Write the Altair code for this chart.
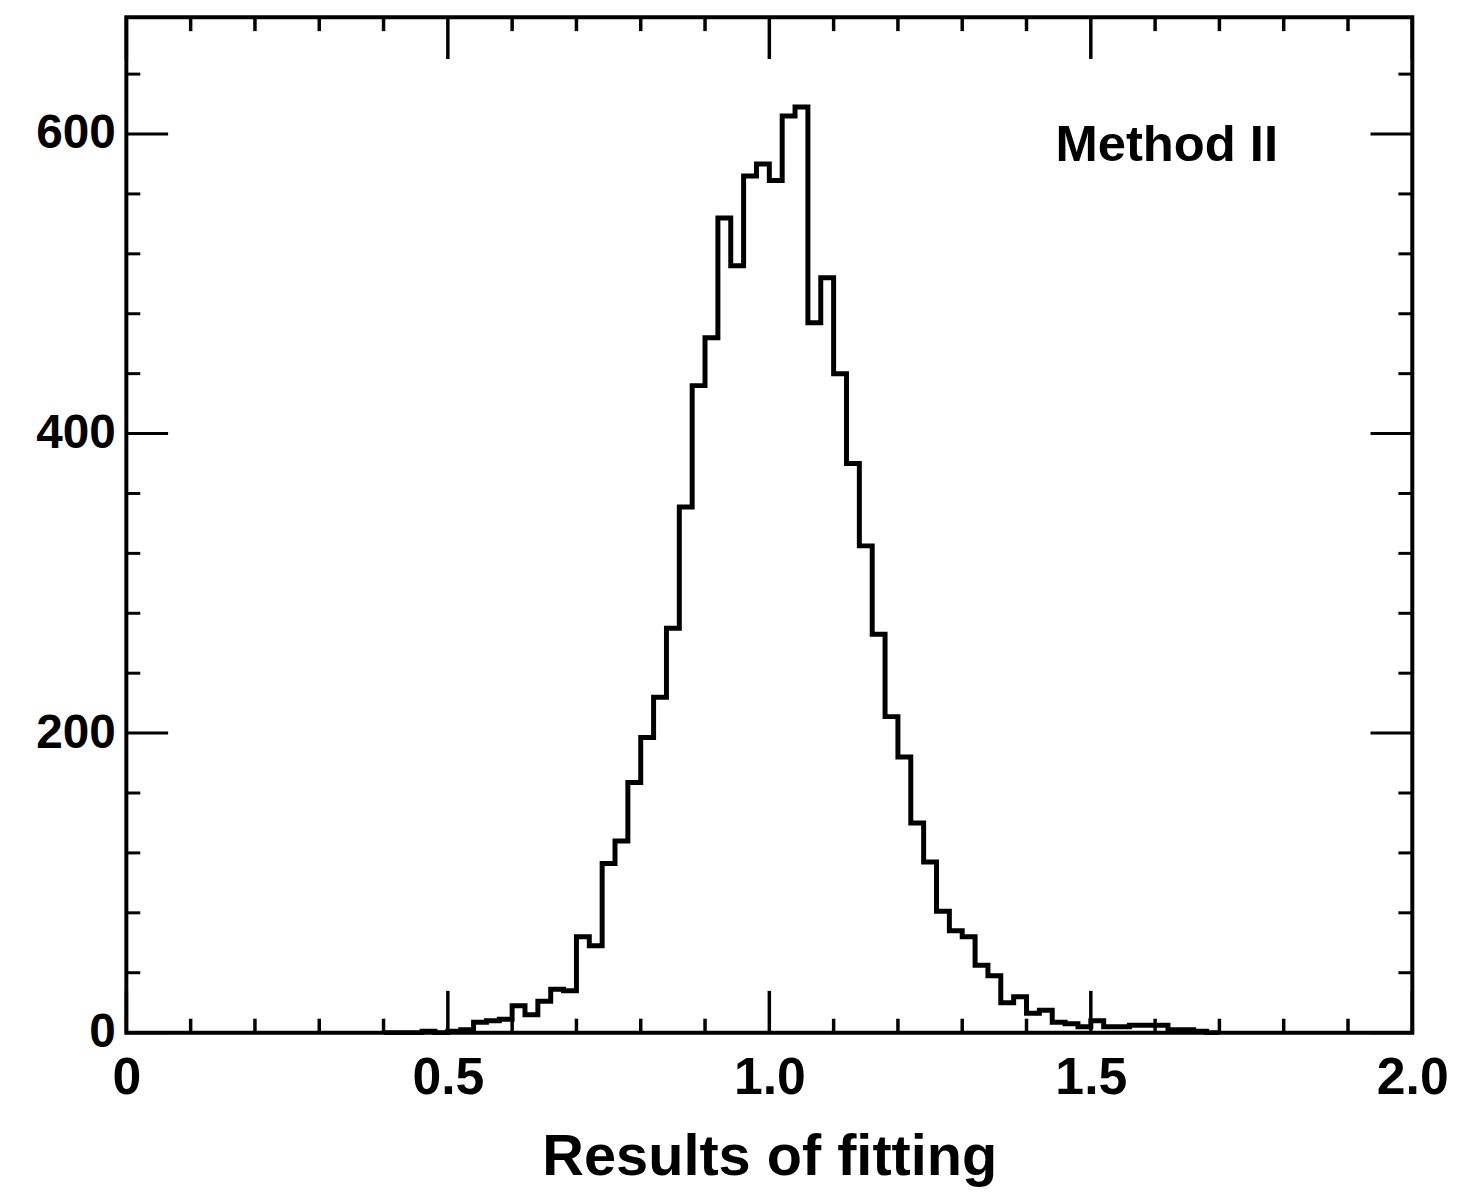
import altair as alt
import numpy as np
import pandas as pd

# ---- data ----
bin_width = 0.02
bin_lefts = np.round(np.arange(0.40, 1.70 - 1e-9, bin_width), 2)
counts = [0, 0, 0, 1, 0, 1, 2, 7, 8, 9,          # 0.40 - 0.58
          18, 12, 21, 29, 28, 64, 58, 113, 128, 167,  # 0.60 - 0.78
          197, 224, 270, 351, 432, 464, 544, 512, 572, 580,  # 0.80 - 0.98
          569, 612, 618, 474, 504, 440, 380, 325, 266, 211,  # 1.00 - 1.18
          184, 140, 114, 81, 68, 64, 45, 38, 20, 24,  # 1.20 - 1.38
          13, 15, 7, 6, 4, 8, 4, 4, 5, 5,            # 1.40 - 1.58
          5, 2, 2, 1, 0]                             # 1.60 - 1.68

x_major = [0.0, 0.5, 1.0, 1.5, 2.0]
x_minor = [0.1, 0.2, 0.3, 0.4, 0.6, 0.7, 0.8, 0.9, 1.1, 1.2, 1.3, 1.4, 1.6, 1.7, 1.8, 1.9]
y_major = [0, 200, 400, 600]
y_minor = [40, 80, 120, 160, 240, 280, 320, 360, 440, 480, 520, 560, 640]

annotation_text = ["Method II"]
annotation_x = [1.445]
annotation_y = [582]

x_title = "Results of fitting"

# ---- layout ----
W, H = 1293, 1021
X_DOMAIN = [0, 2]
Y_DOMAIN = [0, 678]
FONT = "Liberation Sans"
MAJ, MIN = 42, 14

xs = alt.Scale(domain=X_DOMAIN, nice=False, zero=False)
ys = alt.Scale(domain=Y_DOMAIN, nice=False)

edges = list(bin_lefts) + [round(bin_lefts[-1] + bin_width, 2)]
hist_df = pd.DataFrame({"x": edges, "count": list(counts) + [0]})

x_axis = alt.Axis(values=x_major, labelExpr="datum.value == 0 ? '0' : format(datum.value, '.1f')",
                  ticks=False, domain=False, grid=False, labelFlush=False, labelOverlap=False,
                  labelFont=FONT, labelFontSize=52, labelFontWeight="bold", labelColor="black",
                  labelPadding=20, title=x_title, titleFont=FONT, titleFontSize=58,
                  titleFontWeight="bold", titleColor="black", titlePadding=26)
y_axis = alt.Axis(values=y_major, format="d", ticks=False, domain=False, grid=False,
                  labelFlush=False, labelOverlap=False, labelFont=FONT, labelFontSize=48,
                  labelFontWeight="bold", labelColor="black", labelPadding=11, title=None)

hist = alt.Chart(hist_df).mark_line(interpolate="step-after", color="black", strokeWidth=5).encode(
    x=alt.X("x:Q", scale=xs, axis=x_axis),
    y=alt.Y("count:Q", scale=ys, axis=y_axis),
)

layers = [hist]

def xticks(vals, length):
    df = pd.DataFrame({"v": vals})
    bottom = alt.Chart(df).mark_rule(color="black", strokeWidth=3.5).encode(
        x=alt.X("v:Q", scale=xs), y=alt.value(H), y2=alt.value(H - length))
    top = alt.Chart(df).mark_rule(color="black", strokeWidth=3.5).encode(
        x=alt.X("v:Q", scale=xs), y=alt.value(0), y2=alt.value(length))
    return [bottom, top]

def yticks(vals, length):
    df = pd.DataFrame({"v": vals})
    left = alt.Chart(df).mark_rule(color="black", strokeWidth=3).encode(
        y=alt.Y("v:Q", scale=ys), x=alt.value(0), x2=alt.value(length))
    right = alt.Chart(df).mark_rule(color="black", strokeWidth=3).encode(
        y=alt.Y("v:Q", scale=ys), x=alt.value(W), x2=alt.value(W - length))
    return [left, right]

layers += xticks(x_major, MAJ) + xticks(x_minor, MIN)
layers += yticks(y_major, MAJ) + yticks(y_minor, MIN)

ann_df = pd.DataFrame({"x": annotation_x, "y": annotation_y, "t": annotation_text})
ann = alt.Chart(ann_df).mark_text(align="left", baseline="alphabetic", font=FONT,
                                   fontSize=51, fontWeight="bold", color="black").encode(
    x=alt.X("x:Q", scale=xs), y=alt.Y("y:Q", scale=ys), text="t:N")
layers.append(ann)

chart = alt.layer(*layers).properties(
    width=W, height=H,
    autosize=alt.AutoSizeParams(type="none"),
    padding={"left": 119, "top": 6, "right": 55, "bottom": 160},
).configure(background="white").configure_view(stroke="black", strokeWidth=4)

chart.save("out.html", embed_options={"renderer": "svg", "actions": False})
